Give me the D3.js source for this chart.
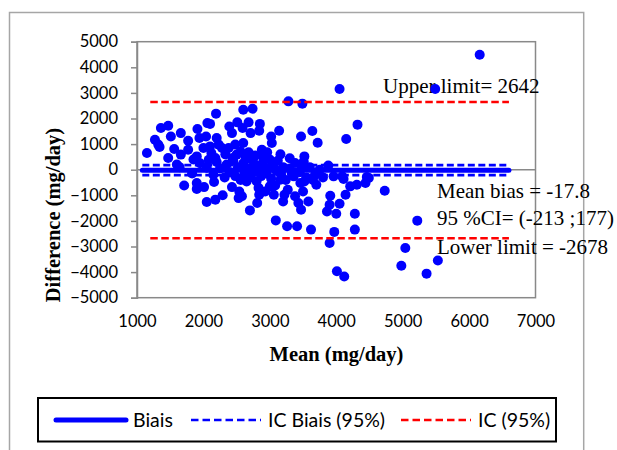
<!DOCTYPE html>
<html>
<head>
<meta charset="utf-8">
<script src="https://cdn.jsdelivr.net/npm/d3@7"></script>
<style>
  body { margin: 0; background: #fff; }
  svg { display: block; }
</style>
</head>
<body>
<div id="chart"></div>
<script>
// [mean, difference] in mg/day
const points = [
  [1150,650],[1270,1170],[1320,980],[1340,890],[1360,1630],[1470,1720],[1510,1300],[1470,460],[1560,810],[1660,1430],
  [1660,590],[1770,1130],[1770,780],[1600,200],[1910,1590],[1940,1240],[1900,520],[2040,1300],[2060,1820],[2100,1790],
  [2190,2190],[2000,850],[2100,910],[2200,1240],[2230,980],[2080,390],[2180,460],[2280,850],[2380,850],[2390,1690],
  [2430,1430],[2510,1850],[2600,2340],[2740,2380],[2680,1850],[2590,1630],[2710,1430],[2480,980],[2600,1040],[2680,680],
  [2630,520],[2500,590],[2440,460],[2850,1790],[2840,1520],[3020,1300],[3030,1040],[2880,780],[2960,680],[2900,520],
  [3140,1520],[3280,2670],[3490,2580],[3470,1300],[3640,1510],[3720,1050],[3520,520],[3380,260],[3060,260],[6160,4490],
  [4050,3150],[5490,3150],[4150,1200],[4320,1760],[3510,320],[3880,160],[3960,-260],[4090,-260],[4460,-290],
  [1710,-620],[1900,-520],[1900,-750],[2010,-680],[2050,-1260],[2160,-480],[2180,-1170],[2290,-1000],[2430,-680],[2540,-850],
  [2530,-1110],[2580,-1040],[2650,-460],[2700,-1590],[2810,-1300],[2830,-710],[2840,-980],[2930,-850],[3000,-650],[3080,-620],
  [3060,-980],[3090,-1980],[3200,-1240],[3220,-980],[3260,-2210],[3270,-780],[3380,-1040],[3410,-2210],[3430,-1300],[3470,-1560],
  [3500,-850],[3520,-460],[3580,-1240],[3620,-2340],[3700,-590],[3160,-390],[3360,-260],
  [3910,-1020],[3900,-1370],[3860,-1630],[4000,-1720],[4050,-1330],[4140,-980],[4210,-650],[4310,-590],[4440,-520],[4490,-320],
  [4110,-360],[3680,-200],[4730,-820],[4280,-1720],[3970,-2430],[4280,-2340],[3900,-2860],[4010,-3970],[4120,-4170],[5220,-1990],
  [5040,-3060],[4980,-3750],[5360,-4060],[5530,-3550],
  [1640,100],[1830,-150],[1950,250],[2050,80],[2150,-200],[2200,300],[2250,50],[2320,-300],[2350,200],[2400,-100],
  [2450,350],[2480,-250],[2520,100],[2560,-400],[2600,250],[2620,-150],[2660,50],[2700,-300],[2720,400],[2760,-100],
  [2780,200],[2800,-450],[2850,100],[2870,-250],[2900,300],[2950,-150],[2980,50],[3020,-350],[3050,150],[3100,-50],
  [3120,350],[3170,-200],[3200,100],[3240,-400],[3300,50],[3330,-150],[3450,-100],[3470,150],[3550,-300],[3600,100],
  [3650,-400],[3750,0],[3800,-300],[2330,600],[2560,700],[2780,550],[3000,400],[3160,600],[3300,450],[2120,650],
  [1850,400],[3180,0],[3460,-520]
];

const xTicks = [1000, 2000, 3000, 4000, 5000, 6000, 7000];
const yTicks = [-5000, -4000, -3000, -2000, -1000, 0, 1000, 2000, 3000, 4000, 5000];

const bias = -17.8;
const biasCI = [-213, 177];
const limits = [-2678, 2642];
const biasLineX = [1080, 6600];
const limitLineX = [1200, 6600];

const legendLabels = ['Biais', 'IC Biais (95%)', 'IC (95%)'];
const notes = ['Upper limit= 2642', 'Mean bias = -17.8', '95 %CI= (-213 ;177)', 'Lower limit = -2678'];

const width = 617, height = 450;
const plot = { left: 137, right: 535.5, top: 41.7, bottom: 297.7 };
const grey = '#898989';
const sans = 'Lato, "Open Sans", sans-serif';
const serif = '"Liberation Serif", "Times New Roman", serif';

const svg = d3.select('#chart')
  .append('svg')
  .attr('width', width)
  .attr('height', height);

// outer chart frame
svg.append('rect')
  .attr('x', 9.5).attr('y', 12.5)
  .attr('width', 574.2).attr('height', 460)
  .attr('fill', 'none')
  .attr('stroke', '#a6a6a6')
  .attr('stroke-width', 1.5);

const x = d3.scaleLinear().domain([1000, 7000]).range([plot.left, plot.right]);
const y = d3.scaleLinear().domain([-5000, 5000]).range([plot.bottom, plot.top]);

// plot area border
svg.append('rect')
  .attr('x', plot.left).attr('y', plot.top)
  .attr('width', plot.right - plot.left).attr('height', plot.bottom - plot.top)
  .attr('fill', 'none')
  .attr('stroke', grey)
  .attr('stroke-width', 1.5);

// y axis
const yAxis = svg.append('g')
  .attr('transform', 'translate(' + plot.left + ',0)')
  .call(d3.axisLeft(y).tickValues(yTicks).tickFormat(d3.format('d')).tickSize(6).tickPadding(13));
yAxis.select('.domain').attr('stroke', grey).attr('stroke-width', 1.5);
yAxis.selectAll('.tick line').attr('stroke', grey).attr('stroke-width', 1.5);
yAxis.selectAll('text').attr('font-family', sans).attr('font-size', 16.5).attr('fill', '#000');

// x axis labels sit at the bottom, axis line crosses at 0
const xAxis = svg.append('g')
  .attr('transform', 'translate(0,' + plot.bottom + ')')
  .call(d3.axisBottom(x).tickValues(xTicks).tickFormat(d3.format('d')).tickSize(0).tickPadding(18));
xAxis.select('.domain').remove();
xAxis.selectAll('text').attr('font-family', sans).attr('font-size', 16.5).attr('fill', '#000');

svg.append('line')
  .attr('x1', plot.left).attr('x2', plot.right)
  .attr('y1', y(0)).attr('y2', y(0))
  .attr('stroke', grey)
  .attr('stroke-width', 1.5);

// annotations
const noteY = [93, 198, 225, 254];
const noteX = [383, 437, 437, 437];
svg.selectAll('text.note')
  .data(notes)
  .enter()
  .append('text')
  .attr('class', 'note')
  .attr('x', (d, i) => noteX[i])
  .attr('y', (d, i) => noteY[i])
  .attr('font-family', serif)
  .attr('font-size', 21)
  .text(d => d);

// scatter
svg.append('g')
  .selectAll('circle')
  .data(points)
  .enter()
  .append('circle')
  .attr('cx', d => x(d[0]))
  .attr('cy', d => y(d[1]))
  .attr('r', 5)
  .attr('fill', '#0000ff');

// reference lines
const hline = (val, xs, color, w, dash, cap) => {
  svg.append('line')
    .attr('x1', x(xs[0])).attr('x2', x(xs[1]))
    .attr('y1', y(val)).attr('y2', y(val))
    .attr('stroke', color)
    .attr('stroke-width', w)
    .attr('stroke-dasharray', dash)
    .attr('stroke-linecap', cap || 'butt');
};
limits.forEach(v => hline(v, limitLineX, '#ff0000', 2.6, '7.5,3.5'));
biasCI.forEach(v => hline(v, biasLineX, '#0000ff', 2.6, '7,3.5'));
hline(bias, biasLineX, '#0000ff', 5, null, 'round');

// axis titles
svg.append('text')
  .attr('x', 336.5).attr('y', 361)
  .attr('text-anchor', 'middle')
  .attr('font-family', serif)
  .attr('font-weight', 'bold')
  .attr('font-size', 20.5)
  .text('Mean (mg/day)');

svg.append('text')
  .attr('transform', 'translate(60,215) rotate(-90)')
  .attr('text-anchor', 'middle')
  .attr('font-family', serif)
  .attr('font-weight', 'bold')
  .attr('font-size', 20.5)
  .text('Difference (mg/day)');

// legend
svg.append('rect')
  .attr('x', 38).attr('y', 398)
  .attr('width', 518).attr('height', 43.5)
  .attr('fill', '#fff')
  .attr('stroke', '#000')
  .attr('stroke-width', 2);

const legendStyles = [
  { x: 56, color: '#0000ff', w: 5, dash: null, cap: 'round' },
  { x: 191, color: '#0000ff', w: 2.6, dash: '7.5,4', cap: 'butt' },
  { x: 401, color: '#ff0000', w: 2.6, dash: '7.5,4', cap: 'butt' }
];
const legendY = 420;
legendLabels.forEach((label, i) => {
  const s = legendStyles[i];
  svg.append('line')
    .attr('x1', s.x).attr('x2', s.x + 70)
    .attr('y1', legendY).attr('y2', legendY)
    .attr('stroke', s.color)
    .attr('stroke-width', s.w)
    .attr('stroke-dasharray', s.dash)
    .attr('stroke-linecap', s.cap);
  svg.append('text')
    .attr('x', s.x + 77)
    .attr('y', legendY + 7)
    .attr('font-family', sans)
    .attr('font-size', 19.5)
    .text(label);
});
</script>
</body>
</html>
